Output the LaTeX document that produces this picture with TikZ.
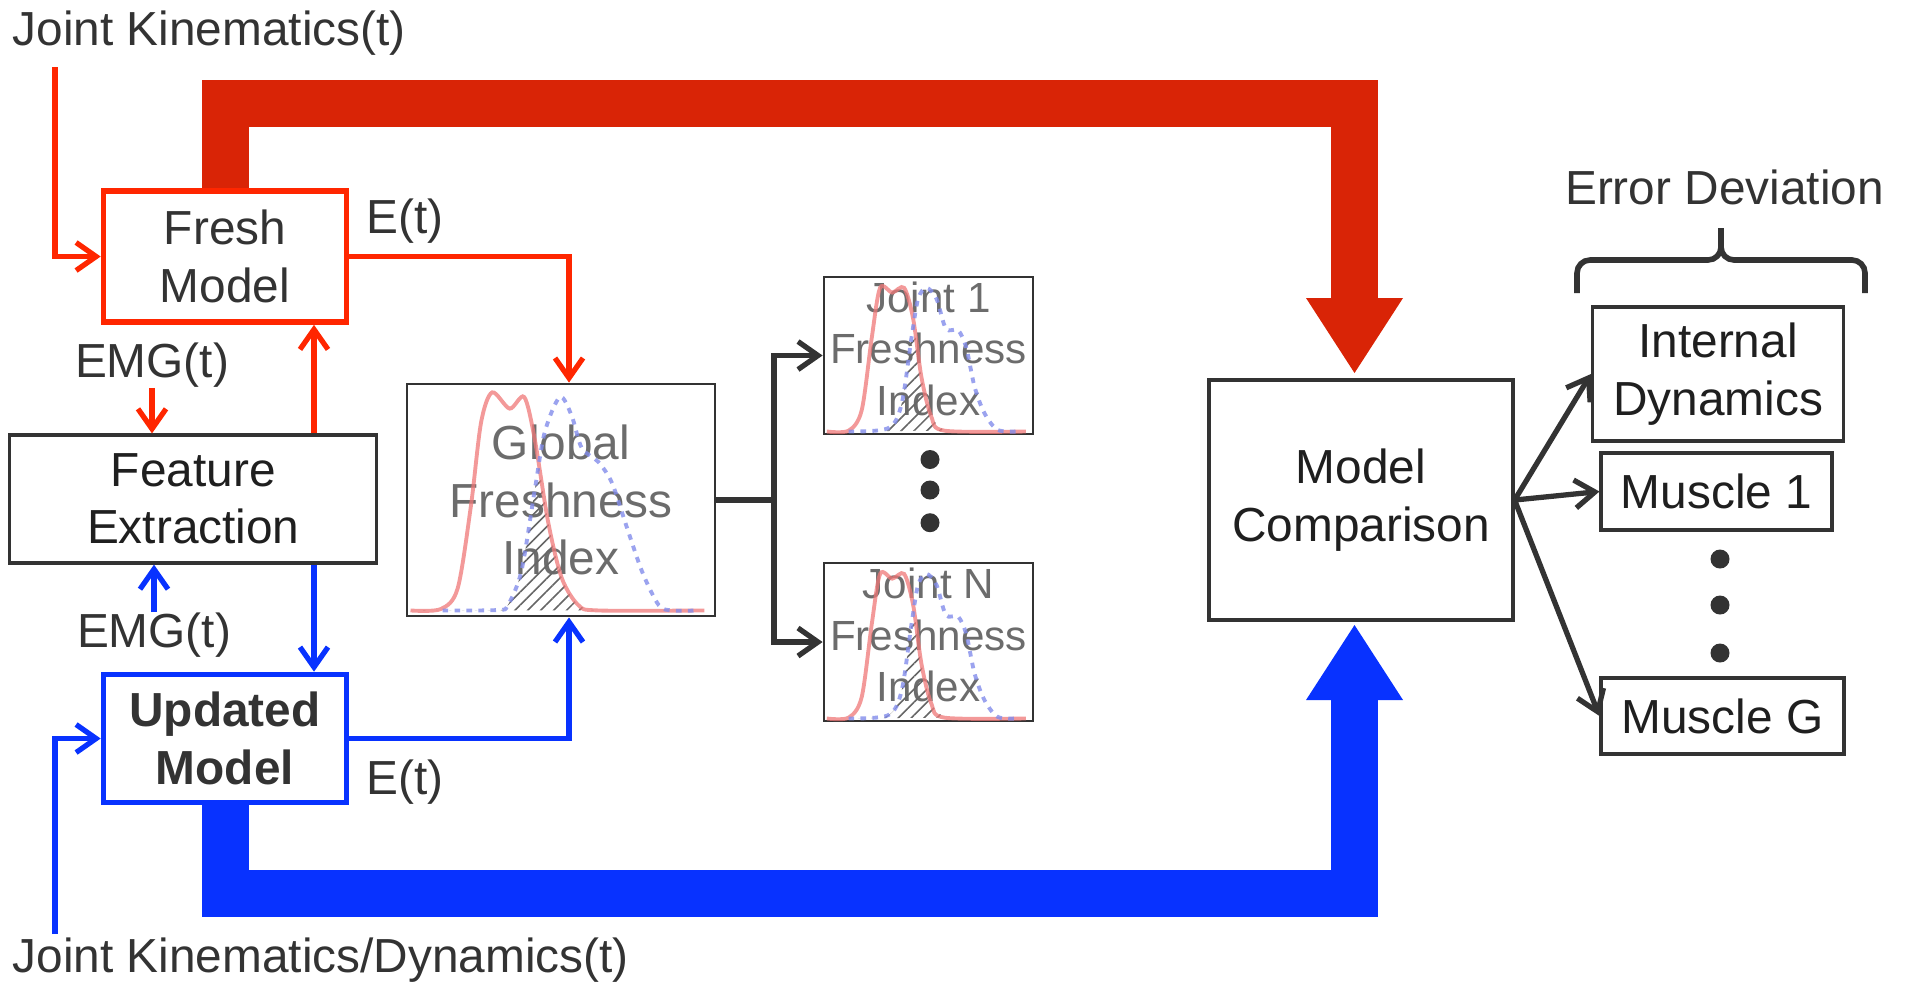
\documentclass[tikz,border=0pt]{standalone}
\usepackage{fontspec}
\setmainfont{Liberation Sans}
\usetikzlibrary{positioning, calc, arrows.meta, patterns.meta}

\definecolor{fred}{RGB}{255,38,0}
\definecolor{thkred}{RGB}{217,36,6}
\definecolor{fblue}{RGB}{8,50,255}
\definecolor{inkgray}{RGB}{51,51,51}
\definecolor{figray}{RGB}{108,108,108}
\definecolor{curvered}{RGB}{240,120,120}
\definecolor{curveblue}{RGB}{130,140,235}

\tikzset{
	lbl/.style={font=\fontsize{13.6}{16.3}\selectfont, text=inkgray, inner sep=0pt},
	box/.style={draw=inkgray, line width=0.9pt, align=center, inner sep=0pt, fill=white, font=\fontsize{13.6}{16.3}\selectfont, text=black!88},
	redbox/.style={box, draw=fred, line width=1.6pt, text=inkgray},
	bluebox/.style={box, draw=fblue, line width=1.6pt, text=inkgray},
	fibox/.style={box, line width=0.8pt, text=figray},
	redarr/.style={draw=fred, line width=1.5pt, -{Straight Barb[length=2mm,width=2.8mm]}},
	bluearr/.style={draw=fblue, line width=1.5pt, -{Straight Barb[length=2mm,width=2.8mm]}},
	blkarr/.style={draw=inkgray, line width=1.5pt, -{Straight Barb[length=2mm,width=2.8mm]}},
	bigarr/.style={line width=4.7mm, line join=miter, -{Triangle[length=7.5mm,width=9.7mm,line width=0pt]}},
	bracestyle/.style={draw=inkgray, line width=1.6pt, rounded corners=0.13cm},
	fcurve/.style={curvered, line width=1.1pt, opacity=0.75},
	bcurve/.style={curveblue, line width=1.1pt, opacity=0.8, dash pattern=on 1.6pt off 1.8pt},
	hatch/.style={pattern={Lines[angle=45, distance=2.6pt, line width=0.45pt]}, pattern color=black!60},
}

% curves of the freshness boxes, in unit box coordinates
\newcommand{\globalcurves}{%
	\begin{scope}
		\clip plot[smooth] coordinates {(0.016,0.03) (0.114,0.036) (0.169,0.125) (0.212,0.48) (0.245,0.84) (0.281,0.97) (0.338,0.90) (0.385,0.95) (0.419,0.77) (0.463,0.41) (0.507,0.17) (0.561,0.053) (0.626,0.03)} -- cycle;
		\fill[hatch] plot[smooth] coordinates {(0.016,0.03) (0.3,0.032) (0.332,0.053) (0.376,0.2) (0.42,0.555) (0.452,0.80) (0.501,0.95) (0.539,0.87) (0.572,0.73) (0.626,0.67) (0.67,0.58) (0.713,0.41) (0.768,0.197) (0.822,0.053) (0.866,0.03)} -- cycle;
	\end{scope}
	\draw[fcurve] plot[smooth] coordinates {(0.016,0.03) (0.114,0.036) (0.169,0.125) (0.212,0.48) (0.245,0.84) (0.281,0.97) (0.338,0.90) (0.385,0.95) (0.419,0.77) (0.463,0.41) (0.507,0.17) (0.561,0.053) (0.626,0.03) (0.97,0.03)};
	\draw[bcurve] plot[smooth] coordinates {(0.12,0.03) (0.3,0.032) (0.332,0.053) (0.376,0.2) (0.42,0.555) (0.452,0.80) (0.501,0.95) (0.539,0.87) (0.572,0.73) (0.626,0.67) (0.67,0.58) (0.713,0.41) (0.768,0.197) (0.822,0.053) (0.866,0.03) (0.95,0.03)};
}
\newcommand{\jointcurves}{%
	\begin{scope}
		\clip plot[smooth] coordinates {(0.02,0.025) (0.124,0.03) (0.187,0.16) (0.235,0.62) (0.275,0.94) (0.333,0.91) (0.39,0.94) (0.433,0.745) (0.473,0.37) (0.52,0.12) (0.584,0.03)} -- cycle;
		\fill[hatch] plot[smooth] coordinates {(0.124,0.025) (0.314,0.046) (0.378,0.2) (0.425,0.62) (0.457,0.87) (0.497,0.94) (0.545,0.87) (0.59,0.68) (0.648,0.67) (0.687,0.56) (0.727,0.31) (0.775,0.14) (0.838,0.035) (0.933,0.025)} -- cycle;
	\end{scope}
	\draw[fcurve] plot[smooth] coordinates {(0.02,0.025) (0.124,0.03) (0.187,0.16) (0.235,0.62) (0.275,0.94) (0.333,0.91) (0.39,0.94) (0.433,0.745) (0.473,0.37) (0.52,0.12) (0.584,0.03) (0.973,0.025)};
	\draw[bcurve] plot[smooth] coordinates {(0.124,0.025) (0.314,0.046) (0.378,0.2) (0.425,0.62) (0.457,0.87) (0.497,0.94) (0.545,0.87) (0.59,0.68) (0.648,0.67) (0.687,0.56) (0.727,0.31) (0.775,0.14) (0.838,0.035) (0.933,0.025)};
}

\begin{document}
\begin{tikzpicture}
	\useasboundingbox (0,0) rectangle (19.06,-9.83);

	% left column
	\node[lbl, anchor=west] (jktop) at (0.12,-0.33) {Joint Kinematics(t)};
	\node[redbox, minimum width=2.43cm, minimum height=1.31cm] (fresh) at (2.25,-2.565) {Fresh\\Model};
	\node[box, minimum width=3.67cm, minimum height=1.28cm] (feat) at (1.933,-4.99) {Feature\\Extraction};
	\node[bluebox, minimum width=2.43cm, minimum height=1.28cm, font=\fontsize{13.6}{16.3}\selectfont\bfseries] (upd) at (2.25,-7.385) {Updated\\Model};
	\node[lbl] (emgtop) at (1.52,-3.65) {EMG(t)};
	\node[lbl] (emgbot) at (1.54,-6.35) {EMG(t)};
	\node[lbl] (etop) at (4.05,-2.21) {E(t)};
	\node[lbl] (ebot) at (4.05,-7.82) {E(t)};
	\node[lbl, anchor=west] (jkbot) at (0.12,-9.6) {Joint Kinematics/Dynamics(t)};

	% freshness indices
	\node[fibox, minimum width=3.08cm, minimum height=2.32cm] (global) at (5.61,-5.0) {Global\\Freshness\\Index};
	\node[fibox, minimum width=2.09cm, minimum height=1.57cm, text depth=0.14cm, font=\fontsize{12}{14.6}\selectfont] (joint1) at (9.285,-3.555) {Joint 1\\Freshness\\Index};
	\node[fibox, minimum width=2.09cm, minimum height=1.58cm, text depth=0.14cm, font=\fontsize{12}{14.6}\selectfont] (jointN) at (9.285,-6.42) {Joint N\\Freshness\\Index};
	\begin{scope}[shift={(global.south west)}, x=3.08cm, y=2.32cm]
		\globalcurves
	\end{scope}
	\begin{scope}[shift={(joint1.south west)}, x=2.09cm, y=1.57cm]
		\jointcurves
	\end{scope}
	\begin{scope}[shift={(jointN.south west)}, x=2.09cm, y=1.58cm]
		\jointcurves
	\end{scope}
	\foreach \y in {-4.595,-4.90,-5.227}
		\fill[inkgray] (9.30,\y) circle (0.095);

	% comparison and outputs
	\node[box, minimum width=3.04cm, minimum height=2.40cm] (comp) at (13.61,-5.0) {Model\\Comparison};
	\node[box, minimum width=2.51cm, minimum height=1.34cm] (internal) at (17.18,-3.74) {Internal\\Dynamics};
	\node[box, minimum width=2.31cm, minimum height=0.77cm] (mus1) at (17.165,-4.915) {Muscle 1};
	\node[box, minimum width=2.43cm, minimum height=0.76cm] (musG) at (17.225,-7.16) {Muscle G};
	\foreach \y in {-5.59,-6.05,-6.53}
		\fill[inkgray] (17.20,\y) circle (0.095);
	\node[lbl] (errdev) at (17.245,-1.87) {Error Deviation};
	\coordinate (bracel) at (15.77,-2.93);
	\coordinate (bracer) at (18.65,-2.93);
	\coordinate (bracemid) at (17.21,-2.60);
	\coordinate (bracetip) at (17.21,-2.28);
	\draw[bracestyle] (bracel) |- (bracemid) -- (bracetip);
	\draw[bracestyle] (bracer) |- (bracemid) -- (bracetip);

	% thick arrows
	\coordinate (redtip) at (13.545,-3.73);
	\coordinate (redturn) at (13.545,-1.035);
	\coordinate (bluetip) at (13.545,-6.25);
	\coordinate (blueturn) at (13.545,-8.93);
	\draw[bigarr, thkred] (fresh.north) |- (redturn) -- (redtip);
	\draw[bigarr, fblue] (upd.south) |- (blueturn) -- (bluetip);

	% thin connectors
	\coordinate (jkin) at (0.55,-0.67);
	\coordinate (jkout) at (0.55,-9.34);
	\coordinate (fx) at (3.14,0);
	\coordinate (ex) at (5.69,0);
	\coordinate (split) at (7.74,-4.98);
	\draw[redarr] (jkin) |- (fresh.west);
	\draw[redarr] (emgtop.south) -- (emgtop.south |- feat.north);
	\draw[redarr] (feat.north -| fx) -- (fresh.south -| fx);
	\draw[bluearr] (feat.south -| fx) -- (upd.north -| fx);
	\draw[bluearr] (emgbot.north) -- (emgbot.north |- feat.south);
	\draw[bluearr] (jkout) |- (upd.west);
	\draw[redarr] (fresh.east) -| (global.north -| ex);
	\draw[bluearr] (upd.east) -| (global.south -| ex);
	\draw[inkgray, line width=1.5pt] (global.east) -- (global.east -| split);
	\draw[blkarr] (split) |- (joint1.west);
	\draw[blkarr] (split) |- (jointN.west);
	\draw[blkarr] (comp.east) -- (internal.west);
	\draw[blkarr] (comp.east) -- (mus1.west);
	\draw[blkarr] (comp.east) -- (musG.west);
\end{tikzpicture}
\end{document}
